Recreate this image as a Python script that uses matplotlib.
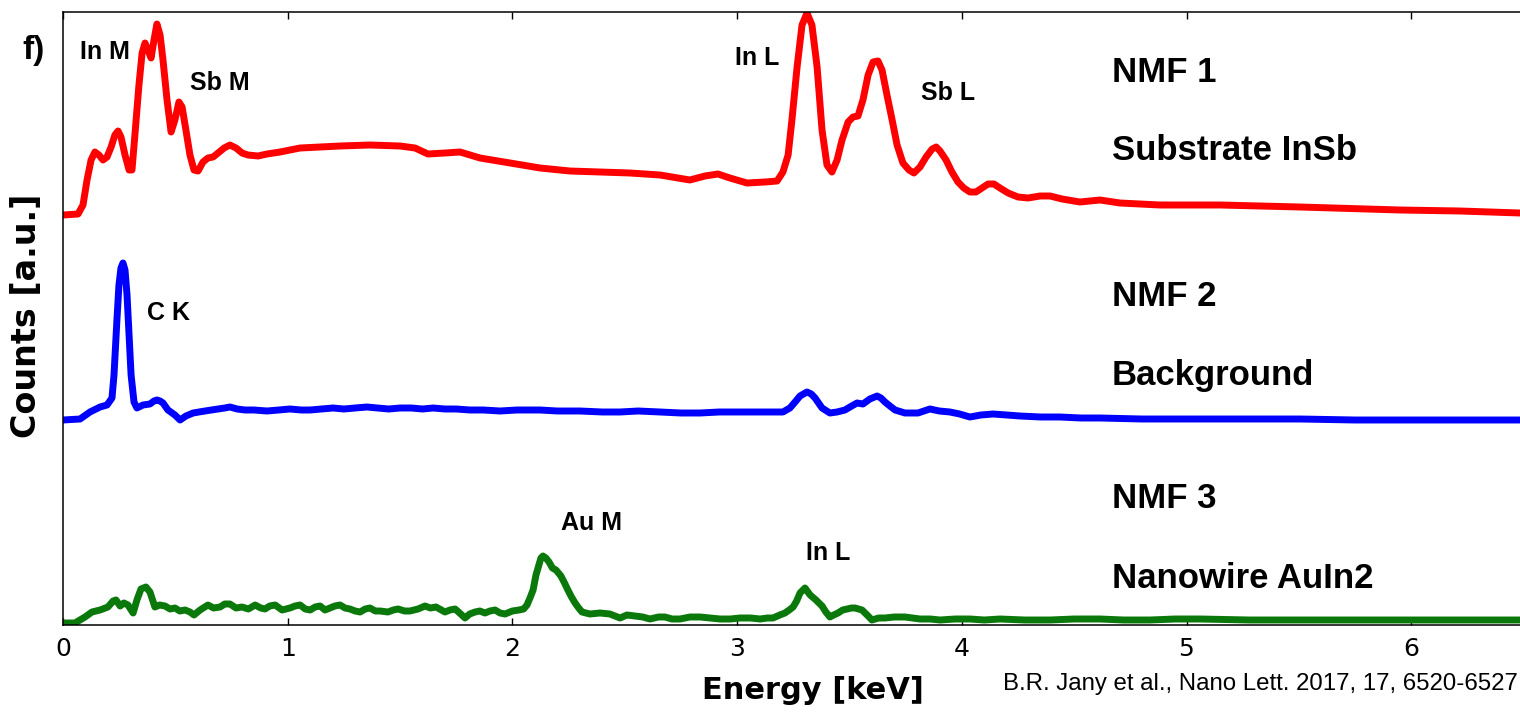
import matplotlib
matplotlib.use('Agg')
import matplotlib.pyplot as plt
import numpy as np

# NMF components of the EDX spectrum (energy in keV, counts in a.u.)
red_energy = [0.000, 0.067, 0.089, 0.107, 0.125, 0.142, 0.160, 0.178, 0.196, 0.214,
              0.231, 0.245, 0.258, 0.276, 0.294, 0.307, 0.320, 0.338, 0.352, 0.365,
              0.378, 0.392, 0.405, 0.418, 0.432, 0.445, 0.463, 0.481, 0.498, 0.516,
              0.530, 0.547, 0.565, 0.583, 0.601, 0.623, 0.645, 0.668, 0.690, 0.717,
              0.743, 0.770, 0.797, 0.823, 0.868, 0.908, 0.966, 1.055, 1.144, 1.233,
              1.366, 1.500, 1.567, 1.624, 1.700, 1.767, 1.856, 1.990, 2.123, 2.256,
              2.390, 2.523, 2.657, 2.790, 2.857, 2.915, 2.968, 3.044, 3.124, 3.178,
              3.204, 3.227, 3.244, 3.267, 3.289, 3.311, 3.333, 3.356, 3.378, 3.400,
              3.422, 3.445, 3.467, 3.494, 3.516, 3.538, 3.560, 3.583, 3.605, 3.627,
              3.645, 3.667, 3.690, 3.712, 3.738, 3.765, 3.787, 3.814, 3.841, 3.868,
              3.886, 3.903, 3.930, 3.956, 3.983, 4.009, 4.036, 4.063, 4.090, 4.117,
              4.143, 4.170, 4.206, 4.250, 4.295, 4.348, 4.393, 4.446, 4.526, 4.615,
              4.704, 4.882, 5.149, 5.505, 5.950, 6.217, 6.484]
red_counts = [0, 1, 10, 35, 55, 63, 60, 55, 58, 68,
              80, 84, 78, 60, 45, 45, 80, 130, 162, 172,
              165, 157, 175, 191, 180, 155, 115, 83, 95, 113,
              108, 85, 60, 45, 44, 53, 57, 58, 62, 67,
              70, 67, 62, 60, 59, 61, 63, 67, 68, 69,
              70, 69, 67, 61, 62, 63, 57, 52, 47, 44,
              43, 42, 40, 35, 39, 41, 37, 32, 33, 34,
              43, 60, 95, 148, 190, 202, 190, 148, 85, 50,
              43, 55, 75, 93, 98, 99, 115, 140, 153, 154,
              145, 120, 95, 70, 52, 45, 42, 48, 58, 66,
              68, 64, 55, 43, 33, 27, 23, 23, 27, 31,
              31, 27, 22, 18, 17, 19, 19, 16, 13, 15,
              12, 10, 10, 8, 5, 4, 2]

blue_energy = [0.000, 0.076, 0.120, 0.165, 0.196, 0.218, 0.227, 0.240, 0.249, 0.258,
               0.267, 0.276, 0.285, 0.294, 0.303, 0.316, 0.329, 0.356, 0.387, 0.405,
               0.418, 0.432, 0.445, 0.467, 0.498, 0.521, 0.547, 0.579, 0.605, 0.632,
               0.660, 0.690, 0.720, 0.743, 0.775, 0.810, 0.850, 0.908, 0.960, 1.010,
               1.060, 1.100, 1.150, 1.202, 1.250, 1.300, 1.353, 1.400, 1.450, 1.500,
               1.550, 1.600, 1.647, 1.700, 1.750, 1.811, 1.870, 1.945, 2.020, 2.123,
               2.200, 2.300, 2.400, 2.479, 2.560, 2.657, 2.750, 2.835, 2.920, 3.013,
               3.100, 3.204, 3.235, 3.258, 3.280, 3.311, 3.330, 3.347, 3.378, 3.413,
               3.445, 3.480, 3.510, 3.534, 3.560, 3.591, 3.623, 3.640, 3.658, 3.680,
               3.703, 3.747, 3.805, 3.858, 3.900, 3.947, 3.990, 4.036, 4.085, 4.139,
               4.200, 4.259, 4.350, 4.437, 4.530, 4.615, 4.800, 5.060, 5.300, 5.505,
               5.750, 5.950, 6.200, 6.484]
blue_counts = [0, 1, 8, 13, 15, 22, 45, 100, 135, 152,
               157, 150, 125, 85, 45, 18, 12, 15, 16, 19,
               20, 19, 17, 10, 5, 0, 4, 7, 8, 9,
               10, 11, 12, 13, 11, 10, 10, 9, 10, 11,
               10, 10, 11, 12, 11, 12, 13, 12, 11, 12,
               12, 11, 12, 11, 11, 10, 10, 9, 10, 10,
               9, 9, 8, 8, 9, 8, 7, 7, 8, 8,
               8, 8, 12, 18, 24, 28, 26, 22, 12, 7,
               8, 10, 14, 17, 16, 21, 24, 22, 18, 14,
               10, 7, 7, 11, 9, 8, 6, 3, 5, 6,
               5, 4, 3, 3, 2, 2, 1, 1, 1, 1,
               0, 0, 0, 0]

green_energy = [0.000, 0.053, 0.098, 0.129, 0.165, 0.200, 0.223, 0.236, 0.254, 0.271,
                0.289, 0.312, 0.329, 0.347, 0.369, 0.387, 0.409, 0.430, 0.454, 0.476,
                0.498, 0.520, 0.543, 0.565, 0.583, 0.610, 0.645, 0.670, 0.699, 0.720,
                0.743, 0.770, 0.797, 0.825, 0.855, 0.880, 0.899, 0.920, 0.944, 0.975,
                1.010, 1.033, 1.055, 1.078, 1.100, 1.122, 1.144, 1.166, 1.188, 1.210,
                1.233, 1.255, 1.277, 1.300, 1.322, 1.345, 1.366, 1.390, 1.411, 1.446,
                1.470, 1.491, 1.520, 1.544, 1.580, 1.611, 1.635, 1.660, 1.700, 1.722,
                1.745, 1.770, 1.789, 1.810, 1.834, 1.855, 1.878, 1.900, 1.923, 1.945,
                1.967, 2.000, 2.029, 2.050, 2.065, 2.080, 2.092, 2.105, 2.118, 2.127,
                2.136, 2.149, 2.163, 2.178, 2.194, 2.205, 2.216, 2.232, 2.247, 2.263,
                2.279, 2.295, 2.310, 2.345, 2.390, 2.434, 2.479, 2.510, 2.546, 2.580,
                2.612, 2.650, 2.679, 2.710, 2.746, 2.790, 2.835, 2.880, 2.924, 2.970,
                3.013, 3.060, 3.102, 3.135, 3.160, 3.190, 3.213, 3.232, 3.249, 3.265,
                3.280, 3.302, 3.325, 3.351, 3.378, 3.395, 3.413, 3.430, 3.449, 3.470,
                3.490, 3.510, 3.525, 3.540, 3.556, 3.583, 3.600, 3.630, 3.658, 3.700,
                3.747, 3.780, 3.814, 3.860, 3.903, 3.970, 4.036, 4.100, 4.170, 4.280,
                4.393, 4.500, 4.615, 4.720, 4.838, 4.950, 5.060, 5.280, 5.505, 5.730,
                5.950, 6.200, 6.484]
green_counts = [0, 0, 6, 11, 13, 16, 22, 23, 17, 20,
                18, 10, 23, 34, 36, 31, 16, 18, 17, 14,
                15, 12, 13, 11, 8, 13, 18, 15, 16, 19,
                19, 15, 16, 14, 18, 15, 14, 17, 18, 13,
                15, 17, 18, 14, 13, 16, 17, 13, 15, 17,
                18, 15, 14, 12, 11, 14, 15, 12, 12, 11,
                13, 14, 12, 12, 14, 17, 15, 16, 11, 13,
                14, 9, 5, 9, 11, 12, 10, 12, 13, 10,
                9, 12, 13, 14, 18, 26, 33, 48, 58, 65,
                67, 65, 61, 55, 53, 50, 47, 40, 33, 26,
                20, 15, 11, 9, 10, 9, 5, 8, 7, 6,
                4, 6, 6, 4, 4, 6, 6, 5, 4, 4,
                5, 5, 4, 5, 5, 8, 10, 13, 16, 22,
                30, 35, 28, 23, 17, 11, 6, 8, 10, 13,
                14, 15, 15, 14, 13, 7, 3, 5, 5, 6,
                6, 5, 4, 4, 3, 4, 4, 3, 4, 3,
                3, 4, 4, 3, 3, 4, 4, 3, 3, 3,
                3, 3, 3]

# vertical stacking offsets of the three components
offsets = {'red': 410, 'blue': 205, 'green': 2}

peak_labels = [('In M', 0.076, 573), ('Sb M', 0.565, 542), ('In L', 2.99, 567),
               ('Sb L', 3.818, 532), ('C K', 0.374, 312), ('Au M', 2.216, 102),
               ('In L', 3.307, 72)]
component_labels = [('NMF 1', 553), ('Substrate InSb', 475), ('NMF 2', 328),
                    ('Background', 249), ('NMF 3', 126), ('Nanowire AuIn2', 47)]

fig = plt.figure(figsize=(15.2, 7.16), dpi=100)
ax = fig.add_axes([63 / 1520, 91 / 716, 1457 / 1520, 613 / 716])

lw = 5.0
for xs, ys, col, key in [(red_energy, red_counts, '#ff0000', 'red'),
                         (blue_energy, blue_counts, '#0000ff', 'blue'),
                         (green_energy, green_counts, '#0a780a', 'green')]:
    ax.plot(xs, np.array(ys) + offsets[key], color=col, lw=lw,
            solid_joinstyle='round', solid_capstyle='round')

ax.set_xlim(0, 1457 / 224.7)
ax.set_ylim(0, 613)
ax.set_xticks(range(7))
ax.set_yticks([])
ax.spines['right'].set_visible(False)
for s in ['left', 'top', 'bottom']:
    ax.spines[s].set_linewidth(1.1)
ax.tick_params(axis='x', direction='in', top=True, length=5, width=1,
               labelsize=18, pad=9)

lab_font = {'family': 'Liberation Sans', 'weight': 'bold'}
for txt, x, y in peak_labels:
    ax.text(x, y, txt, fontsize=18, ha='left', va='center', **lab_font)
for txt, y in component_labels:
    ax.text(4.668, y, txt, fontsize=25, ha='left', va='center', **lab_font)

ax.set_xlabel('Energy [keV]', fontsize=22, fontweight='bold')
ax.xaxis.set_label_coords(0.515, -0.083)
ax.xaxis.label.set_va('top')

fig.text(27 / 1520, 1 - 316 / 716, 'Counts [a.u.]', rotation=90, ha='center', va='center',
         fontsize=24, fontweight='bold')
fig.text(22 / 1520, 1 - 50 / 716, 'f)', ha='left', va='center', fontsize=24, **lab_font)
fig.text(1003 / 1520, 1 - 684 / 716, 'B.R. Jany et al., Nano Lett. 2017, 17, 6520-6527',
         ha='left', va='center', fontsize=17.3, family='Liberation Sans')

fig.savefig('out.png', dpi=100)
